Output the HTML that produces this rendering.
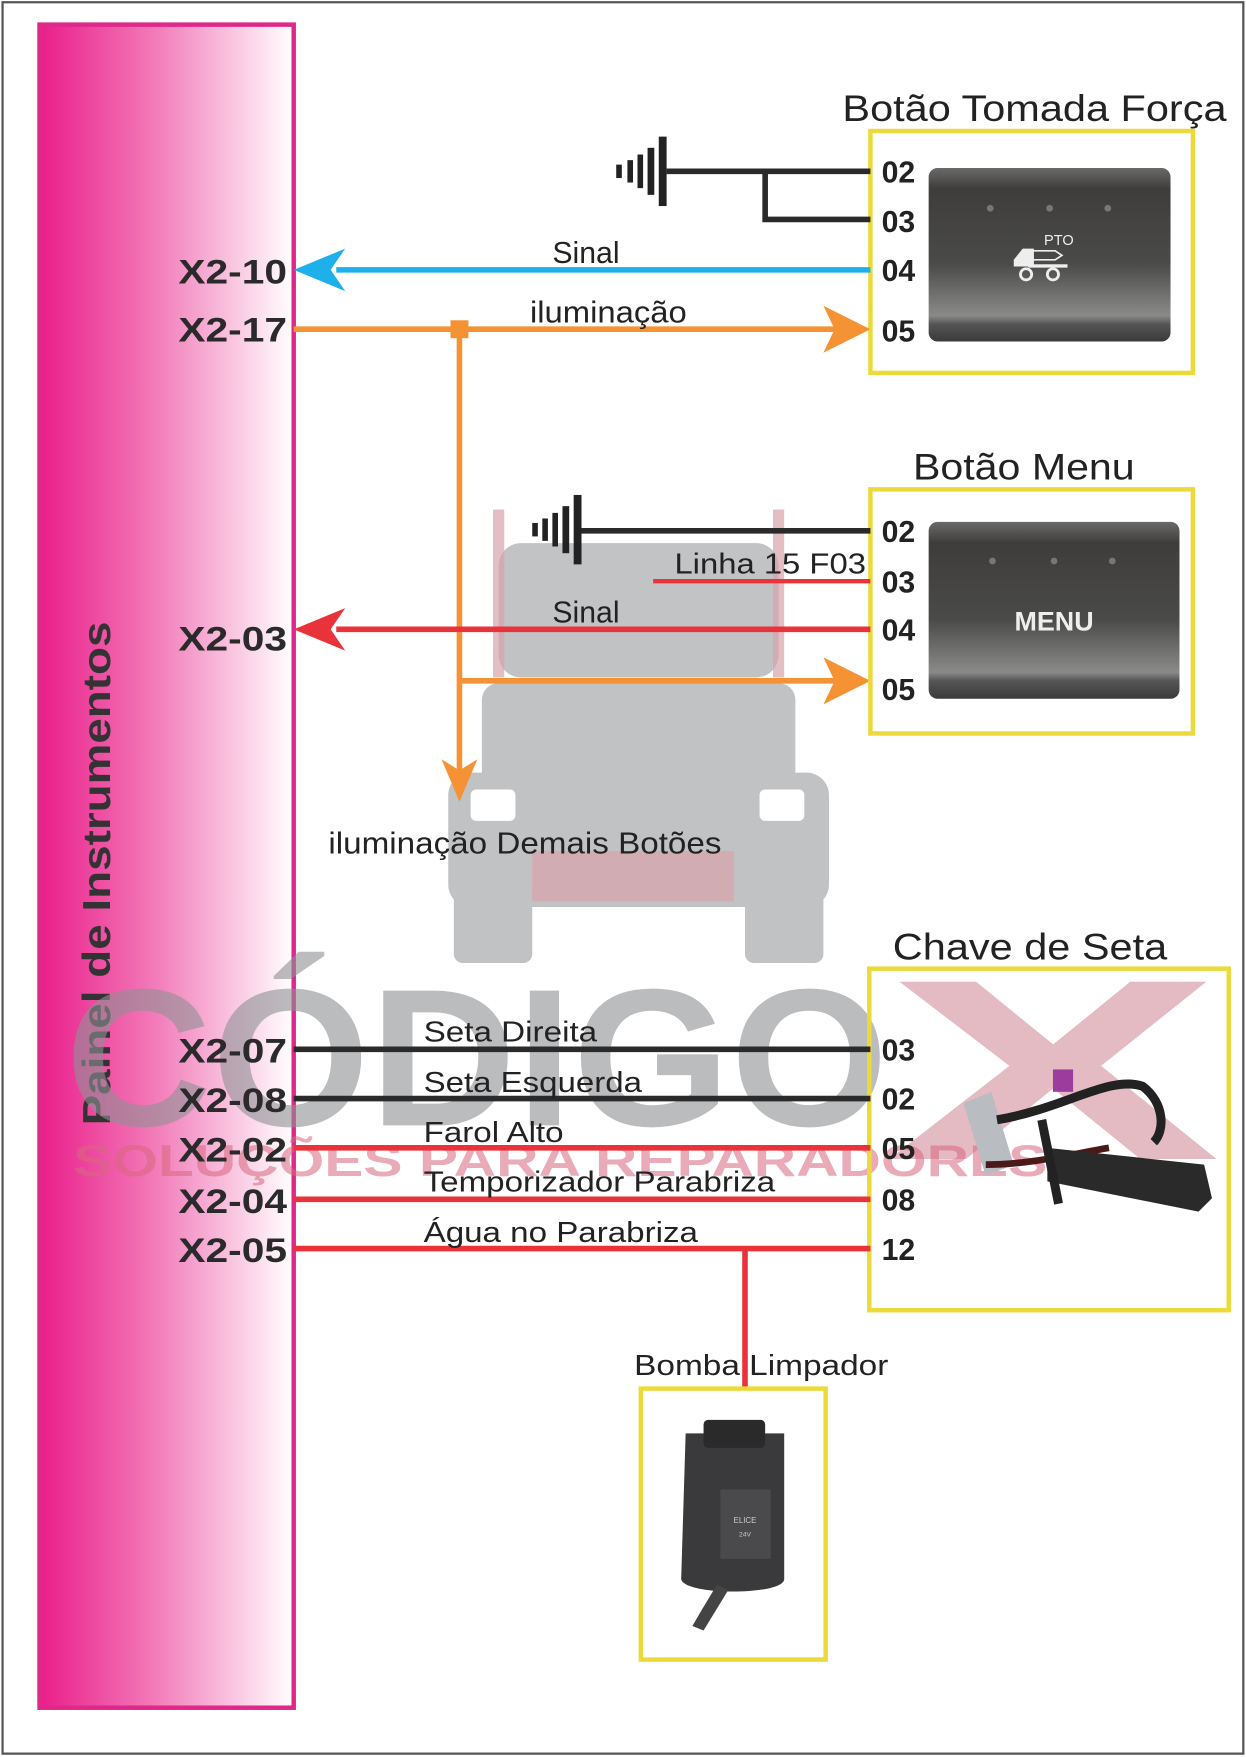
<!DOCTYPE html>
<html><head><meta charset="utf-8"><style>html,body{margin:0;padding:0;background:#fff}svg{display:block}</style></head>
<body>
<svg width="1247" height="1757" viewBox="0 0 1113 1569" xmlns="http://www.w3.org/2000/svg" font-family="Liberation Sans, sans-serif">
<defs>
<linearGradient id="pk" x1="0" x2="1"><stop offset="0" stop-color="#ea1e8a"/><stop offset="0.45" stop-color="#f27ab8"/><stop offset="1" stop-color="#ffffff"/></linearGradient>
<linearGradient id="btn" x1="0" x2="0" y1="0" y2="1"><stop offset="0" stop-color="#6a6a68"/><stop offset="0.12" stop-color="#3e3d3b"/><stop offset="0.55" stop-color="#4a4a48"/><stop offset="0.85" stop-color="#8a8a88"/><stop offset="0.9" stop-color="#555"/><stop offset="1" stop-color="#3a3a3a"/></linearGradient>
</defs>
<rect x="2" y="2" width="1108" height="1564" fill="#fff" stroke="#555" stroke-width="2"/>
<rect x="35" y="22" width="227" height="1503" fill="url(#pk)" stroke="#e0288a" stroke-width="4"/>
<text transform="translate(98,1005) rotate(-90)" font-size="35" font-weight="bold" fill="#333" textLength="450" lengthAdjust="spacingAndGlyphs">Painel de Instrumentos</text>

<!-- truck watermark -->
<g fill="#a7a9ac" opacity="0.7">
<rect x="445" y="485" width="250" height="120" rx="20"/>
<rect x="430" y="610" width="280" height="180" rx="15"/>
<rect x="400" y="690" width="340" height="120" rx="20"/>
<rect x="405" y="790" width="70" height="70" rx="8"/>
<rect x="665" y="790" width="70" height="70" rx="8"/>
</g>
<g fill="#d9a3ad" opacity="0.7"><rect x="440" y="455" width="10" height="150"/><rect x="690" y="455" width="10" height="150"/><rect x="475" y="760" width="180" height="45"/></g>
<g fill="#fff"><rect x="420" y="705" width="40" height="28" rx="5"/><rect x="678" y="705" width="40" height="28" rx="5"/></g>
<!-- CODIGO X watermark -->
<text x="58" y="1005" font-size="175" font-weight="bold" fill="#8f9194" opacity="0.6" textLength="735" lengthAdjust="spacingAndGlyphs">CÓDIGO</text>
<text x="790" y="1035" font-size="230" font-weight="bold" fill="#d58e9c" opacity="0.6" textLength="300" lengthAdjust="spacingAndGlyphs">X</text>
<text x="65" y="1050" font-size="40" font-weight="bold" fill="#d9677f" opacity="0.55" textLength="870" lengthAdjust="spacingAndGlyphs">SOLUÇÕES PARA REPARADORES</text>

<!-- box 1 -->
<text x="752" y="108" font-size="33" fill="#222" textLength="343" lengthAdjust="spacingAndGlyphs">Botão Tomada Força</text>
<rect x="777" y="117" width="288" height="216" fill="none" stroke="#ecd93a" stroke-width="4"/>
<rect x="829" y="150" width="216" height="155" rx="8" fill="url(#btn)"/>
<g fill="#777"><circle cx="884" cy="186" r="3"/><circle cx="937" cy="186" r="3"/><circle cx="989" cy="186" r="3"/></g>
<text x="932" y="219" font-size="13" fill="#eee">PTO</text>
<g fill="#eee"><path d="M905 232 l8 -10 h10 v16 h-18z"/><rect x="918" y="236" width="35" height="3"/><circle cx="916" cy="245" r="5" fill="none" stroke="#eee" stroke-width="2.5"/><circle cx="940" cy="245" r="5" fill="none" stroke="#eee" stroke-width="2.5"/><path d="M922 224 h20 l6 4 -6 4 h-20z" fill="none" stroke="#eee" stroke-width="1.5"/></g>
<g font-size="27" font-weight="bold" fill="#222"><text x="787" y="163">02</text><text x="787" y="207">03</text><text x="787" y="251">04</text><text x="787" y="305">05</text></g>
<g fill="#222"><rect x="588" y="122" width="7" height="62"/><rect x="578" y="132" width="6" height="42"/><rect x="569" y="138" width="5" height="30"/><rect x="560" y="143" width="5" height="20"/><rect x="550" y="147" width="5" height="12"/></g>
<path d="M595 153 H777 M683 153 V196 H777" stroke="#2a2a2a" stroke-width="5" fill="none"/>
<line x1="300" y1="241" x2="777" y2="241" stroke="#1eb0ea" stroke-width="5"/>
<path d="M262 241 L308 222 L295 241 L308 260 Z" fill="#1eb0ea"/>
<text x="493" y="235" font-size="27" fill="#222">Sinal</text>
<line x1="262" y1="294" x2="745" y2="294" stroke="#f59234" stroke-width="5"/>
<path d="M777 294 L735 273 L745 294 L735 315 Z" fill="#f59234"/>
<rect x="402" y="286" width="16" height="16" fill="#f59234"/>
<text x="473" y="288" font-size="27" fill="#222" textLength="140" lengthAdjust="spacingAndGlyphs">iluminação</text>
<line x1="410" y1="294" x2="410" y2="690" stroke="#f59234" stroke-width="5"/>
<path d="M410 716 L394 678 L410 688 L426 678 Z" fill="#f59234"/>
<line x1="410" y1="608" x2="745" y2="608" stroke="#f59234" stroke-width="5"/>
<path d="M777 608 L735 587 L745 608 L735 629 Z" fill="#f59234"/>

<!-- box 2 -->
<text x="815" y="428" font-size="33" fill="#222" textLength="198" lengthAdjust="spacingAndGlyphs">Botão Menu</text>
<rect x="777" y="437" width="288" height="218" fill="none" stroke="#ecd93a" stroke-width="4"/>
<rect x="829" y="466" width="224" height="158" rx="8" fill="url(#btn)"/>
<g fill="#777"><circle cx="886" cy="501" r="3"/><circle cx="941" cy="501" r="3"/><circle cx="993" cy="501" r="3"/></g>
<text x="941" y="563" font-size="24" font-weight="bold" fill="#eee" text-anchor="middle">MENU</text>
<g font-size="27" font-weight="bold" fill="#222"><text x="787" y="484">02</text><text x="787" y="529">03</text><text x="787" y="572">04</text><text x="787" y="625">05</text></g>
<g fill="#222"><rect x="512" y="442" width="7" height="62"/><rect x="502" y="452" width="6" height="42"/><rect x="493" y="458" width="5" height="30"/><rect x="484" y="463" width="5" height="20"/><rect x="475" y="467" width="5" height="12"/></g>
<line x1="519" y1="474" x2="777" y2="474" stroke="#2a2a2a" stroke-width="5"/>
<line x1="583" y1="519" x2="777" y2="519" stroke="#e8333a" stroke-width="4"/>
<text x="602" y="512" font-size="26" fill="#222" textLength="171" lengthAdjust="spacingAndGlyphs">Linha 15 F03</text>
<line x1="300" y1="562" x2="777" y2="562" stroke="#e8333a" stroke-width="5"/>
<path d="M262 562 L308 543 L295 562 L308 581 Z" fill="#e8333a"/>
<text x="493" y="556" font-size="27" fill="#222">Sinal</text>
<text x="293" y="762" font-size="27" fill="#222" textLength="351" lengthAdjust="spacingAndGlyphs">iluminação Demais Botões</text>

<!-- X2 labels -->
<g font-size="31" font-weight="bold" fill="#2a2a2a" text-anchor="end">
<text x="256" y="253" textLength="97" lengthAdjust="spacingAndGlyphs">X2-10</text><text x="256" y="305" textLength="97" lengthAdjust="spacingAndGlyphs">X2-17</text><text x="256" y="581" textLength="97" lengthAdjust="spacingAndGlyphs">X2-03</text>
<text x="256" y="949" textLength="97" lengthAdjust="spacingAndGlyphs">X2-07</text><text x="256" y="993" textLength="97" lengthAdjust="spacingAndGlyphs">X2-08</text><text x="256" y="1037" textLength="97" lengthAdjust="spacingAndGlyphs">X2-02</text><text x="256" y="1083" textLength="97" lengthAdjust="spacingAndGlyphs">X2-04</text><text x="256" y="1127" textLength="97" lengthAdjust="spacingAndGlyphs">X2-05</text>
</g>

<!-- box 3 -->
<text x="797" y="857" font-size="33" fill="#222" textLength="245" lengthAdjust="spacingAndGlyphs">Chave de Seta</text>
<rect x="776" y="865" width="321" height="305" fill="none" stroke="#ecd93a" stroke-width="4"/>
<g stroke-width="5"><line x1="262" y1="937" x2="777" y2="937" stroke="#2a2a2a"/><line x1="262" y1="981" x2="777" y2="981" stroke="#2a2a2a"/><line x1="262" y1="1025" x2="777" y2="1025" stroke="#e8333a"/><line x1="262" y1="1071" x2="777" y2="1071" stroke="#e8333a"/><line x1="262" y1="1115" x2="777" y2="1115" stroke="#e8333a"/><line x1="665" y1="1115" x2="665" y2="1240" stroke="#e8333a"/></g>
<g font-size="26" fill="#222"><text x="378" y="930" textLength="155" lengthAdjust="spacingAndGlyphs">Seta Direita</text><text x="378" y="975" textLength="195" lengthAdjust="spacingAndGlyphs">Seta Esquerda</text><text x="378" y="1020" textLength="125" lengthAdjust="spacingAndGlyphs">Farol Alto</text><text x="378" y="1064" textLength="314" lengthAdjust="spacingAndGlyphs">Temporizador Parabriza</text><text x="378" y="1109" textLength="245" lengthAdjust="spacingAndGlyphs">Água no Parabriza</text></g>
<g font-size="27" font-weight="bold" fill="#222"><text x="787" y="947">03</text><text x="787" y="991">02</text><text x="787" y="1035">05</text><text x="787" y="1081">08</text><text x="787" y="1125">12</text></g>
<path d="M860 985 L885 975 L905 1040 L880 1050Z" fill="#b9bcc0"/>
<path d="M890 1000 C950 990 990 960 1020 970 C1040 985 1040 1010 1030 1020" stroke="#222" stroke-width="8" fill="none"/>
<path d="M880 1040 C920 1040 960 1030 990 1025" stroke="#4a1a1a" stroke-width="6" fill="none"/>
<rect x="940" y="955" width="18" height="20" fill="#9c3c9c"/>
<path d="M935 1025 L1075 1040 L1082 1070 L1070 1082 L935 1055Z" fill="#2a2a2a"/>
<path d="M930 1000 L945 1075" stroke="#222" stroke-width="8"/>

<!-- bomba -->
<text x="566" y="1228" font-size="26" fill="#222" textLength="227" lengthAdjust="spacingAndGlyphs">Bomba Limpador</text>
<rect x="572" y="1240" width="165" height="242" fill="none" stroke="#ecd93a" stroke-width="4"/>
<path d="M612 1280 L700 1280 L700 1410 C700 1425 610 1425 608 1410 Z" fill="#3a3a3c"/>
<rect x="628" y="1268" width="55" height="25" rx="4" fill="#2a2a2a"/>
<path d="M640 1415 L625 1440 L618 1452 L628 1456 L650 1420Z" fill="#444"/>
<rect x="643" y="1330" width="45" height="62" fill="#4a4a4d"/>
<text x="665" y="1360" font-size="7" fill="#ccc" text-anchor="middle">ELICE</text>
<text x="665" y="1372" font-size="6" fill="#ccc" text-anchor="middle">24V</text>
</svg>
</body></html>
